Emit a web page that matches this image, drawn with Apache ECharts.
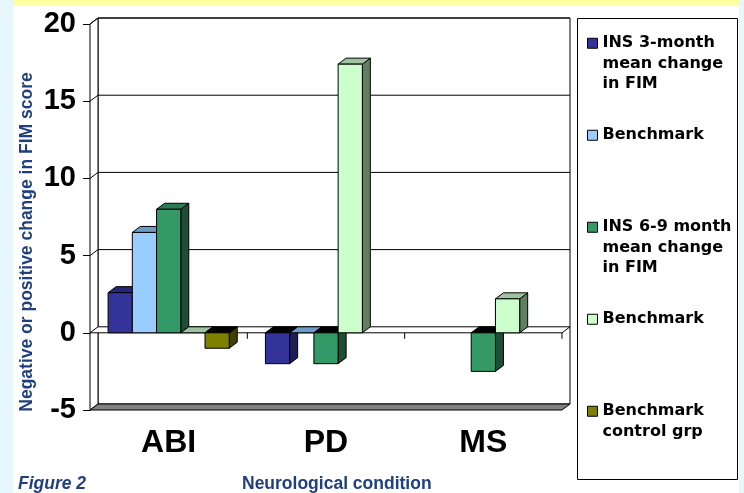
<!DOCTYPE html>
<html>
<head>
<meta charset="utf-8">
<script src="https://cdn.jsdelivr.net/npm/echarts@6/dist/echarts.min.js"></script>
<style>
  html, body { margin: 0; padding: 0; background: #fff; }
  #chart { width: 744px; height: 493px; }
</style>
</head>
<body>
<div id="chart"></div>
<script>
// chart values
var categories = ['ABI', 'PD', 'MS'];
var ins3Month = [2.6, -2.0, null];
var benchmark3 = [6.5, 0, null];
var ins69Month = [8.0, -2.0, -2.5];
var benchmark69 = [0, 17.4, 2.2];
var benchmarkControl = [-1.0, null, null];
var yTicks = [-5, 0, 5, 10, 15, 20];

var seriesNames = ['INS 3-month', 'Benchmark 3-month', 'INS 6-9 month', 'Benchmark 6-9 month', 'Benchmark control grp'];
// legend text, blank lines keep the square next to the first line
var legendLabels = [
    '\n\nINS 3-month\nmean change\nin FIM',
    'Benchmark',
    '\n\nINS 6-9 month\nmean change\nin FIM',
    'Benchmark',
    '\n\nBenchmark\ncontrol grp\n'
];

var palette = [
    {front: '#333399', top: '#262677', side: '#1d1d58'},
    {front: '#99ccff', top: '#6e9cc8', side: '#5a7fa6'},
    {front: '#339966', top: '#2b7a55', side: '#1f4d36'},
    {front: '#ccffcc', top: '#a0c4a0', side: '#627e62'},
    {front: '#808000', top: '#5c5c00', side: '#404000'}
];

var DX = 8, DY = -6; // depth of the 3d box
var navy = '#1f3f7f';

var chart = echarts.init(document.getElementById('chart'));

function renderWalls(params, api) {
    var cs = params.coordSys;
    var xL = cs.x, xR = cs.x + cs.width;
    var yMin = yTicks[0], yMax = yTicks[yTicks.length - 1];
    var yTop = api.coord([0, yMax])[1];
    var yBot = api.coord([0, yMin])[1];
    var y0 = api.coord([0, 0])[1];
    var line = {stroke: '#000', lineWidth: 1, fill: null};
    var kids = [];
    kids.push({type: 'rect', shape: {x: xL + DX, y: yTop + DY, width: xR - xL, height: yBot - yTop},
        style: {fill: '#fff', stroke: '#000', lineWidth: 1}});
    kids.push({type: 'polygon', shape: {points: [[xL, yTop], [xL + DX, yTop + DY], [xL + DX, yBot + DY], [xL, yBot]]},
        style: {fill: '#fff', stroke: '#000', lineWidth: 1}});
    kids.push({type: 'polygon', shape: {points: [[xL, yBot], [xR, yBot], [xR + DX, yBot + DY], [xL + DX, yBot + DY]]},
        style: {fill: '#808080', stroke: '#000', lineWidth: 1}});
    yTicks.forEach(function (v) {
        if (v === yMin || v === 0) return;
        var y = api.coord([0, v])[1];
        kids.push({type: 'polyline', shape: {points: [[xL, y], [xL + DX, y + DY], [xR + DX, y + DY]]}, style: line});
    });
    // plane at zero
    kids.push({type: 'polygon', shape: {points: [[xL, y0], [xR, y0], [xR + DX, y0 + DY], [xL + DX, y0 + DY]]},
        style: {fill: '#fff', stroke: '#000', lineWidth: 1}});
    var band = api.size([1, 0])[0];
    for (var i = 1; i <= categories.length; i++) {
        var xb = xL + i * band;
        kids.push({type: 'line', shape: {x1: xb, y1: y0, x2: xb, y2: y0 + 6}, style: {stroke: '#000', lineWidth: 1}});
    }
    return {type: 'group', children: kids};
}

function barRenderer(idx) {
    var col = palette[idx];
    return function (params, api) {
        var v = api.value(1);
        if (v == null || isNaN(v)) return null;
        var base = api.coord([api.value(0), 0]);
        var tip = api.coord([api.value(0), v]);
        var band = api.size([1, 0])[0];
        var groupW = band * 0.77;
        var w = groupW / seriesNames.length;
        var x = base[0] - groupW / 2 + idx * w;
        var yT = Math.min(base[1], tip[1]);
        var yB = Math.max(base[1], tip[1]);
        var edge = {stroke: '#000', lineWidth: 1};
        var kids = [];
        if (v !== 0) {
            kids.push({type: 'polygon', shape: {points: [[x + w, yT], [x + w + DX, yT + DY], [x + w + DX, yB + DY], [x + w, yB]]},
                style: Object.assign({fill: col.side}, edge)});
        }
        kids.push({type: 'polygon', shape: {points: [[x, yT], [x + w, yT], [x + w + DX, yT + DY], [x + DX, yT + DY]]},
            style: Object.assign({fill: v < 0 ? '#000' : col.top}, edge)});
        if (v !== 0) {
            kids.push({type: 'rect', shape: {x: x, y: yT, width: w, height: yB - yT},
                style: Object.assign({fill: col.front}, edge)});
        }
        return {type: 'group', children: kids};
    };
}

function toData(arr) {
    return arr.map(function (v, i) { return [i, v == null ? '-' : v]; });
}

var valueLists = [ins3Month, benchmark3, ins69Month, benchmark69, benchmarkControl];
var series = [{
    type: 'custom',
    name: 'walls',
    silent: true,
    renderItem: renderWalls,
    data: [[0, 0]],
    z: 1
}];
valueLists.forEach(function (arr, i) {
    series.push({
        type: 'custom',
        name: seriesNames[i],
        renderItem: barRenderer(i),
        itemStyle: {color: palette[i].front},
        data: toData(arr),
        z: 2 + i
    });
});

var option = {
    backgroundColor: '#fff',
    animation: false,
    textStyle: {fontFamily: 'Liberation Sans'},
    graphic: [
        {type: 'rect', shape: {x: 0, y: 0, width: 13, height: 493}, style: {fill: '#e6f8fd'}, silent: true},
        {type: 'rect', shape: {x: 739, y: 0, width: 5, height: 493}, style: {fill: '#e6f8fd'}, silent: true},
        {type: 'rect', shape: {x: 13, y: 0, width: 726, height: 6}, style: {fill: '#ffffa0'}, silent: true},
        {type: 'rect', shape: {x: 577.5, y: 18.5, width: 160, height: 461}, style: {fill: '#fff', stroke: '#000', lineWidth: 1}, silent: true},
        {type: 'text', x: 27, y: 242, rotation: Math.PI / 2,
            style: {text: 'Negative or positive change in FIM score', fill: navy, font: 'bold 17.5px "Liberation Sans"',
                align: 'center', verticalAlign: 'middle'}},
        {type: 'text', x: 18, y: 484,
            style: {text: 'Figure 2', fill: navy, font: 'italic bold 17.5px "Liberation Sans"', verticalAlign: 'middle'}},
        {type: 'text', x: 242, y: 484,
            style: {text: 'Neurological condition', fill: navy, font: 'bold 17.5px "Liberation Sans"', verticalAlign: 'middle'}}
    ],
    legend: {
        orient: 'vertical',
        left: 587,
        top: -8,
        padding: 0,
        itemGap: 30.5,
        itemWidth: 10,
        itemHeight: 10,
        icon: 'rect',
        selectedMode: false,
        data: seriesNames,
        itemStyle: {borderColor: '#000', borderWidth: 1},
        textStyle: {fontFamily: 'DejaVu Sans', fontWeight: 'bold', fontSize: 16, lineHeight: 20.5, color: '#000'},
        formatter: function (name) {
            return legendLabels[seriesNames.indexOf(name)];
        }
    },
    grid: {left: 90, right: 182, top: 24, bottom: 83, containLabel: false},
    xAxis: {
        type: 'category',
        data: categories,
        axisLine: {show: false},
        axisTick: {show: true, length: 7, lineStyle: {color: '#000'}},
        axisLabel: {fontSize: 32, fontWeight: 'bold', color: '#000', margin: 17},
        splitLine: {show: false}
    },
    yAxis: {
        type: 'value',
        min: yTicks[0],
        max: yTicks[yTicks.length - 1],
        interval: 5,
        axisLine: {show: true, lineStyle: {color: '#000'}},
        axisTick: {show: true, length: 7, lineStyle: {color: '#000'}},
        axisLabel: {fontSize: 29, fontWeight: 'bold', color: '#000', margin: 14},
        splitLine: {show: false}
    },
    series: series
};

chart.setOption(option);
</script>
</body>
</html>
